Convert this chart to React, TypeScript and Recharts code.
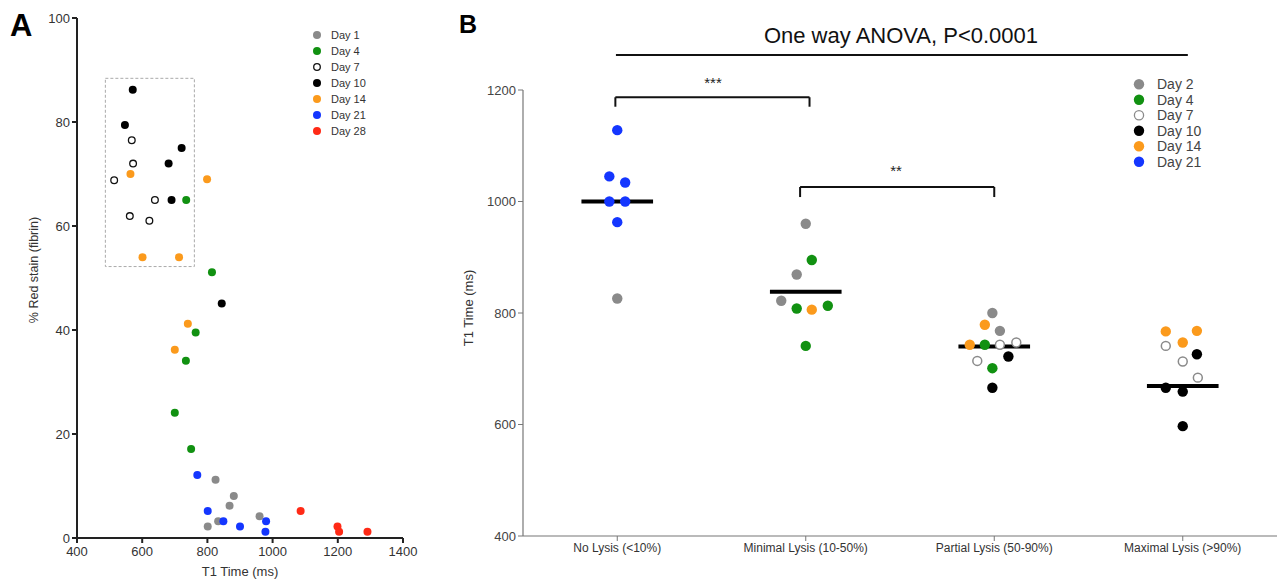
import { ScatterChart, Scatter, XAxis, YAxis, ReferenceLine, ReferenceArea } from "recharts";

const FONT = '"Liberation Sans", Arial, Helvetica, sans-serif';

// ---- Panel A: T1 time (ms) vs % red stain (fibrin) ----
const day1A = [
  { t1: 825, pct: 11.2 }, { t1: 881, pct: 8.1 }, { t1: 868, pct: 6.2 },
  { t1: 960, pct: 4.2 }, { t1: 833, pct: 3.2 }, { t1: 801, pct: 2.2 },
];
const day4A = [
  { t1: 735, pct: 65 }, { t1: 814, pct: 51.1 }, { t1: 764, pct: 39.5 },
  { t1: 734, pct: 34.1 }, { t1: 700, pct: 24.1 }, { t1: 750, pct: 17.1 },
];
const day7A = [
  { t1: 568, pct: 76.5 }, { t1: 572, pct: 72 }, { t1: 514, pct: 68.8 },
  { t1: 639, pct: 65 }, { t1: 562, pct: 61.9 }, { t1: 622, pct: 61 },
];
const day10A = [
  { t1: 571, pct: 86.2 }, { t1: 547, pct: 79.4 }, { t1: 721, pct: 75 },
  { t1: 681, pct: 72 }, { t1: 690, pct: 65 }, { t1: 844, pct: 45.1 },
];
const day14A = [
  { t1: 564, pct: 70 }, { t1: 799, pct: 69 }, { t1: 601, pct: 54 },
  { t1: 713, pct: 54 }, { t1: 740, pct: 41.2 }, { t1: 700, pct: 36.2 },
];
const day21A = [
  { t1: 769, pct: 12.1 }, { t1: 801, pct: 5.2 }, { t1: 849, pct: 3.2 },
  { t1: 900, pct: 2.2 }, { t1: 980, pct: 3.2 }, { t1: 978, pct: 1.2 },
];
const day28A = [
  { t1: 1086, pct: 5.2 }, { t1: 1199, pct: 2.2 }, { t1: 1204, pct: 1.2 }, { t1: 1291, pct: 1.2 },
];
const xTicksA = [400, 600, 800, 1000, 1200, 1400];
const yTicksA = [0, 20, 40, 60, 80, 100];
// dashed box around the early time points
const boxA = { x1: 487, x2: 760, y1: 52.2, y2: 88.4 };

// ---- Panel B: T1 time by lysis grade ----
const groupsB = ["No Lysis (<10%)", "Minimal Lysis (10-50%)", "Partial Lysis (50-90%)", "Maximal Lysis (>90%)"];
const mediansB = [1000, 838, 740, 669];
const yTicksB = [400, 600, 800, 1000, 1200];
// g = group index, dx = jitter in group widths, t1 = ms
const day2B = [
  { g: 0, dx: 0, t1: 826 },
  { g: 1, dx: 0, t1: 960 }, { g: 1, dx: -0.048, t1: 869 }, { g: 1, dx: -0.13, t1: 822 },
  { g: 2, dx: -0.01, t1: 800 }, { g: 2, dx: 0.03, t1: 768 },
];
const day4B = [
  { g: 1, dx: 0.032, t1: 895 }, { g: 1, dx: -0.048, t1: 808 }, { g: 1, dx: 0.117, t1: 813 }, { g: 1, dx: 0, t1: 741 },
  { g: 2, dx: -0.05, t1: 743 }, { g: 2, dx: -0.01, t1: 701 },
];
const day7B = [
  { g: 2, dx: 0.03, t1: 743 }, { g: 2, dx: 0.117, t1: 747 }, { g: 2, dx: -0.09, t1: 714 },
  { g: 3, dx: -0.09, t1: 741 }, { g: 3, dx: 0, t1: 713 }, { g: 3, dx: 0.08, t1: 684 },
];
const day10B = [
  { g: 2, dx: 0.075, t1: 722 }, { g: 2, dx: -0.01, t1: 666 },
  { g: 3, dx: 0.075, t1: 726 }, { g: 3, dx: -0.09, t1: 666 }, { g: 3, dx: 0, t1: 659 }, { g: 3, dx: 0, t1: 597 },
];
const day14B = [
  { g: 1, dx: 0.032, t1: 806 },
  { g: 2, dx: -0.05, t1: 779 }, { g: 2, dx: -0.13, t1: 743 },
  { g: 3, dx: -0.09, t1: 767 }, { g: 3, dx: 0.075, t1: 768 }, { g: 3, dx: 0, t1: 747 },
];
const day21B = [
  { g: 0, dx: 0, t1: 1128 }, { g: 0, dx: -0.042, t1: 1045 }, { g: 0, dx: 0.042, t1: 1034 },
  { g: 0, dx: -0.042, t1: 1000 }, { g: 0, dx: 0.042, t1: 1000 }, { g: 0, dx: 0, t1: 963 },
];
// significance brackets (x in group units, y in ms)
const bracketsB = [
  { x1: 0.49, x2: 1.52, y: 1187, drop: 17, label: "***" },
  { x1: 1.47, x2: 2.5, y: 1026, drop: 18, label: "**" },
];
const anovaB = { x1: 0.493, x2: 3.527, y: 1263, label: "One way ANOVA, P<0.0001" };

const GREY = "#8a8a8a";
const GREEN = "#119111";
const ORANGE = "#fb9a1c";
const BLUE = "#1436ff";
const RED = "#ff2a16";

const seriesA = [
  { name: "Day 1", data: day1A, fill: GREY },
  { name: "Day 4", data: day4A, fill: GREEN },
  { name: "Day 7", data: day7A, fill: "#fff", stroke: "#111" },
  { name: "Day 10", data: day10A, fill: "#000" },
  { name: "Day 14", data: day14A, fill: ORANGE },
  { name: "Day 21", data: day21A, fill: BLUE },
  { name: "Day 28", data: day28A, fill: RED },
];

const seriesB = [
  { name: "Day 2", data: day2B, fill: GREY },
  { name: "Day 4", data: day4B, fill: GREEN },
  { name: "Day 7", data: day7B, fill: "#fff", stroke: "#8a8a8a" },
  { name: "Day 10", data: day10B, fill: "#000" },
  { name: "Day 14", data: day14B, fill: ORANGE },
  { name: "Day 21", data: day21B, fill: BLUE },
];

const dot = (r: number, fill: string, stroke?: string, sw = 1.4) => (p: any) => (
  <circle cx={p.cx} cy={p.cy} r={stroke ? r - sw / 2 : r} fill={fill} stroke={stroke || "none"} strokeWidth={sw} />
);

function PanelA() {
  return (
    <ScatterChart width={420} height={581} margin={{ top: 18, right: 17, bottom: 13, left: 37 }}>
      <XAxis
        type="number"
        dataKey="t1"
        domain={[400, 1400]}
        ticks={xTicksA}
        interval={0}
        height={30}
        axisLine={{ stroke: "#222", strokeWidth: 2 }}
        tickLine={{ stroke: "#222", strokeWidth: 2 }}
        tickSize={5}
        tickMargin={4}
        tick={{ fontSize: 13, fill: "#333", fontFamily: FONT }}
      />
      <YAxis
        type="number"
        dataKey="pct"
        domain={[0, 100]}
        ticks={yTicksA}
        interval={0}
        width={40}
        axisLine={{ stroke: "#222", strokeWidth: 2 }}
        tickLine={{ stroke: "#222", strokeWidth: 2 }}
        tickSize={5}
        tick={{ fontSize: 13, fill: "#333", fontFamily: FONT }}
      />
      <ReferenceArea {...boxA} fill="none" stroke="#aaa" strokeDasharray="3 2" strokeWidth={1} />
      {seriesA.map((s) => (
        <Scatter
          key={s.name}
          name={s.name}
          data={s.data}
          isAnimationActive={false}
          shape={dot(4, s.fill, s.stroke, 1.3)}
        />
      ))}
    </ScatterChart>
  );
}

function PanelB() {
  return (
    <ScatterChart width={838} height={581} margin={{ top: 90, right: 1, bottom: 15, left: 23 }}>
      <XAxis
        type="number"
        dataKey="x"
        domain={[0, 4]}
        ticks={[0.5, 1.5, 2.5, 3.5]}
        interval={0}
        tickFormatter={(v: number) => groupsB[Math.floor(v)]}
        height={30}
        axisLine={{ stroke: "#777", strokeWidth: 1.2 }}
        tickLine={{ stroke: "#777" }}
        tickSize={5}
        tick={{ fontSize: 12, fill: "#333", fontFamily: FONT }}
      />
      <YAxis
        type="number"
        dataKey="y"
        domain={[400, 1200]}
        ticks={yTicksB}
        interval={0}
        width={60}
        axisLine={{ stroke: "#777", strokeWidth: 1.2 }}
        tickLine={{ stroke: "#777" }}
        tickSize={5}
        tick={{ fontSize: 13, fill: "#444", fontFamily: FONT }}
      />
      <ReferenceLine
        segment={[{ x: anovaB.x1, y: anovaB.y }, { x: anovaB.x2, y: anovaB.y }]}
        stroke="#111"
        strokeWidth={2}
        ifOverflow="visible"
      />
      {bracketsB.map((b, i) => [
        <ReferenceLine key={`h${i}`} segment={[{ x: b.x1, y: b.y }, { x: b.x2, y: b.y }]} stroke="#111" strokeWidth={2} ifOverflow="visible" />,
        <ReferenceLine key={`l${i}`} segment={[{ x: b.x1, y: b.y }, { x: b.x1, y: b.y - b.drop }]} stroke="#111" strokeWidth={2} ifOverflow="visible" />,
        <ReferenceLine key={`r${i}`} segment={[{ x: b.x2, y: b.y }, { x: b.x2, y: b.y - b.drop }]} stroke="#111" strokeWidth={2} ifOverflow="visible" />,
      ])}
      {seriesB.map((s) => (
        <Scatter
          key={s.name}
          name={s.name}
          data={s.data.map((d) => ({ x: d.g + 0.5 + d.dx, y: d.t1 }))}
          isAnimationActive={false}
          shape={dot(5.2, s.fill, s.stroke, 1.5)}
        />
      ))}
      {mediansB.map((m, i) => (
        <ReferenceLine
          key={`m${i}`}
          segment={[{ x: i + 0.31, y: m }, { x: i + 0.69, y: m }]}
          stroke="#000"
          strokeWidth={4}
        />
      ))}
    </ScatterChart>
  );
}

function Overlay() {
  return (
    <svg width={1278} height={581} style={{ position: "absolute", left: 0, top: 0, pointerEvents: "none" }} fontFamily={FONT}>
      <text x={10} y={36} fontSize={31} fontWeight="bold" fill="#000">A</text>
      <text x={459} y={33} fontSize={25} fontWeight="bold" fill="#000">B</text>

      <text x={240} y={576} fontSize={13} fill="#333" textAnchor="middle">T1 Time (ms)</text>
      <text x={34} y={270} fontSize={12.5} fill="#333" textAnchor="middle" dominantBaseline="central" transform="rotate(-90 34 270)">% Red stain (fibrin)</text>
      <text x={468} y={308} fontSize={13} fill="#333" textAnchor="middle" dominantBaseline="central" transform="rotate(-90 468 308)">T1 Time (ms)</text>

      <text x={901} y={43} fontSize={22} fill="#111" textAnchor="middle">{anovaB.label}</text>
      <text x={713} y={88} fontSize={15} fill="#222" textAnchor="middle">{bracketsB[0].label}</text>
      <text x={896} y={176} fontSize={15} fill="#222" textAnchor="middle">{bracketsB[1].label}</text>

      {seriesA.map((s, i) => (
        <g key={s.name}>
          <circle cx={317} cy={35 + i * 16} r={s.stroke ? 3.3 : 4} fill={s.fill} stroke={s.stroke || "none"} strokeWidth={1.3} />
          <text x={331} y={35 + i * 16} fontSize={11} fill="#333" dominantBaseline="central">{s.name}</text>
        </g>
      ))}
      {seriesB.map((s, i) => (
        <g key={s.name}>
          <circle cx={1139} cy={84.3 + i * 15.5} r={s.stroke ? 4.6 : 5.2} fill={s.fill} stroke={s.stroke || "none"} strokeWidth={1.3} />
          <text x={1157} y={84.3 + i * 15.5} fontSize={14} fill="#444" dominantBaseline="central">{s.name}</text>
        </g>
      ))}
    </svg>
  );
}

export default function App() {
  return (
    <div style={{ position: "absolute", left: 0, top: 0, width: 1278, height: 581, background: "#fff", fontFamily: FONT }}>
      <div style={{ position: "absolute", left: 0, top: 0 }}>
        <PanelA />
      </div>
      <div style={{ position: "absolute", left: 440, top: 0 }}>
        <PanelB />
      </div>
      <Overlay />
    </div>
  );
}
